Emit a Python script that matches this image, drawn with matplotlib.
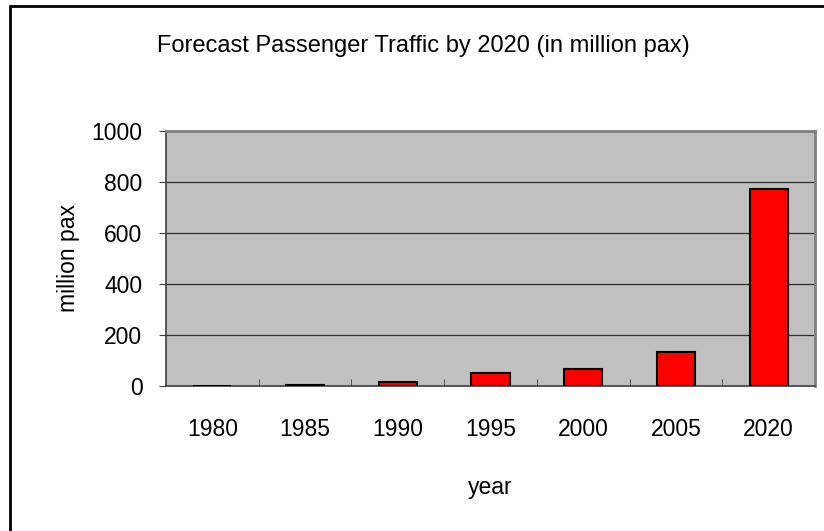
import matplotlib
matplotlib.use("Agg")
import matplotlib.pyplot as plt
from matplotlib.patches import Rectangle
import numpy as np

plt.rcParams['font.family'] = ['Liberation Sans', 'DejaVu Sans']

# Passenger traffic, million pax
years = ['1980', '1985', '1990', '1995', '2000', '2005', '2020']
traffic = [0, 5, 16, 51, 67, 134, 773]
y_ticks = [0, 200, 400, 600, 800, 1000]

fs = 16.5

fig = plt.figure(figsize=(8.24, 5.31), dpi=100)
ax = fig.add_axes([166/824, 1-386/531, (815-166)/824, (386-131)/531])

# outer chart frame
fig.patches.append(Rectangle((10/824, -0.1), 1.2, 1.1 - 6/531, transform=fig.transFigure,
                             fill=False, edgecolor='black', linewidth=2, zorder=0))

x = np.arange(len(years))
ax.set_facecolor('#c0c0c0')
ax.bar(x, traffic, width=0.41, color='#ff0000', edgecolor='black', linewidth=1.5, zorder=3)

ax.set_xlim(-0.5, len(years) - 0.5)
ax.set_ylim(0, 1000)
ax.set_yticks(y_ticks)
ax.set_yticklabels([str(v) for v in y_ticks], fontsize=fs)
ax.yaxis.grid(True, color='#303030', linewidth=0.9, zorder=1)

# category labels with separators between categories
ax.set_xticks(x)
ax.set_xticklabels(years, fontsize=fs)
ax.tick_params(axis='x', length=0, pad=23)
ax.set_xticks(np.arange(0.5, len(years) - 1), minor=True)
ax.tick_params(axis='x', which='minor', direction='in', length=5, color='#404040')
ax.tick_params(axis='y', length=5, color='#404040', pad=12)

for side in ['top', 'right']:
    ax.spines[side].set_color('#808080')
    ax.spines[side].set_linewidth(2)
ax.spines['bottom'].set_color('#404040')
ax.spines['bottom'].set_linewidth(1.2)
ax.spines['left'].set_color('#404040')
ax.spines['left'].set_linewidth(1.2)

ax.set_ylabel('million pax', fontsize=fs, labelpad=8)
ax.set_xlabel('year', fontsize=fs, labelpad=25)
fig.text(423/824, 1 - 46/531, 'Forecast Passenger Traffic by 2020 (in million pax)',
         ha='center', va='center', fontsize=17)

fig.savefig('out.png', dpi=100)
